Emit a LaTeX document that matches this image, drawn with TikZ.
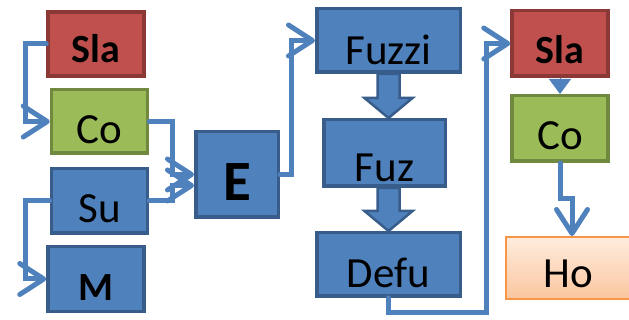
\documentclass[tikz,border=0pt]{standalone}
\usepackage{fontspec}
\setmainfont{Carlito}
\usetikzlibrary{arrows.meta,calc}
\definecolor{Blue}{RGB}{79,129,189}
\definecolor{BlueDark}{RGB}{56,93,138}
\definecolor{Red}{RGB}{192,80,77}
\definecolor{RedDark}{RGB}{140,56,54}
\definecolor{Green}{RGB}{155,187,89}
\definecolor{GreenDark}{RGB}{113,137,63}
\definecolor{Orange}{RGB}{247,150,70}
\definecolor{Peach}{RGB}{254,236,222}
\definecolor{PeachDark}{RGB}{251,198,158}

\begin{document}
\begin{tikzpicture}[
        x=1pt, y=-1pt,
        font=\fontsize{43}{46}\selectfont,
        box/.style = {draw, line width=3.5pt, inner sep=0pt, minimum width=96pt},
        bluebox/.style = {box, fill=Blue, draw=BlueDark},
        redbox/.style = {box, fill=Red, draw=RedDark, font=\fontsize{40}{44}\selectfont\bfseries},
        greenbox/.style = {box, fill=Green, draw=GreenDark},
        link/.style = {draw=Blue, line width=5pt, line cap=round,
            -{Straight Barb[round, length=24pt, width=31pt]}},
        blockarrow/.style = {fill=Blue, draw=BlueDark, line width=2.5pt, line join=miter}
    ]
    \useasboundingbox (0,0) rectangle (629,320);

    \node (sla1)  at (96,44)    [redbox, text height=51pt, text depth=13pt] {Sla};
    \node (co1)   at (99.5,121.5) [greenbox, text height=53.5pt, text depth=10pt] {Co};
    \node (su)    at (99.5,201) [bluebox, text height=53.5pt, text depth=11pt] {Su};
    \node (m)     at (96,279)   [bluebox, text height=53.5pt, text depth=11pt, font=\fontsize{40}{44}\selectfont\bfseries] {M};
    \node (e)     at (237,174.5) [bluebox, minimum width=82.5pt, text height=68.5pt, text depth=17pt, font=\fontsize{57}{60}\selectfont\bfseries] {E};
    \node (fuzzi) at (388.5,40.5) [bluebox, minimum width=143.5pt, text height=55.5pt, text depth=8pt] {Fuzzi};
    \node (fuz)   at (384.5,153) [bluebox, minimum width=121.5pt, text height=61.5pt, text depth=5pt] {Fuz};
    \node (defu)  at (388.5,264.5) [bluebox, minimum width=143.5pt, text height=54.5pt, text depth=9pt] {Defu};
    \node (sla2)  at (560,43.5) [redbox, text height=52.5pt, text depth=13pt] {Sla};
    \node (co2)   at (560,128.5) [greenbox, text height=53.5pt, text depth=12pt] {Co};
    \node (ho)    at (568,268)  [box, draw=Orange, line width=2pt, top color=Peach, bottom color=PeachDark,
                                 minimum width=125pt, text height=51pt, text depth=11pt] {Ho};

    \draw[link] (sla1.west) -- ++(-21,0) |- (co1.west);
    \draw[link] (su.west) -- ++(-24,0) |- (m.west);
    \draw[link] (co1.east) -- ++(23,0) |- (e.west);
    \draw[link] (su.east) -- ++(23,0) |- ($(e.west)+(0,11)$);
    \draw[link] (e.east) -- ++(11,0) |- (fuzzi.west);
    \draw[link] (defu.south) -- ++(0,14) -| ([xshift=-24pt]sla2.west) -- (sla2.west);
    \draw[link] (co2.south) -- ++(0,36) -| ([xshift=4pt]ho.north);
    \draw[draw=Blue, line width=1pt, -{Triangle[length=15pt, width=22pt]}] (sla2.south) -- (co2.north);

    \foreach \a/\b in {fuzzi/fuz, fuz/defu}
        \draw[blockarrow] ($(fuzzi.south |- \a.south)+(-11,0)$) -- ($(fuzzi.south |- \b.north)+(-11,-20)$)
            -- ($(fuzzi.south |- \b.north)+(-24,-20)$) -- (fuzzi.south |- \b.north)
            -- ($(fuzzi.south |- \b.north)+(24,-20)$) -- ($(fuzzi.south |- \b.north)+(11,-20)$)
            -- ($(fuzzi.south |- \a.south)+(11,0)$) -- cycle;
\end{tikzpicture}
\end{document}
